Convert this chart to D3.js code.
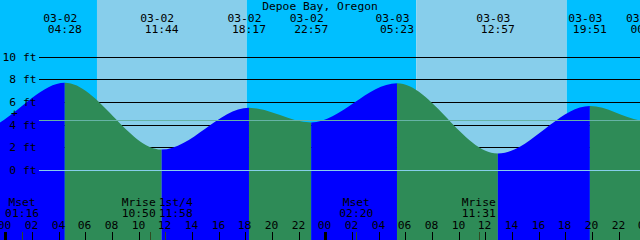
<!DOCTYPE html>
<html><head><meta charset="utf-8">
<script src="https://cdn.jsdelivr.net/npm/d3@7"></script>
<style>
html,body{margin:0;padding:0;background:#fff;}
svg{display:block;}
text{font-family:"DejaVu Sans Mono",monospace;font-size:11.3px;fill:#000;}
</style></head>
<body>
<svg id="chart" width="640" height="240"></svg>
<script>
// ---------- data ----------
const title = "Depoe Bay, Oregon";
// extrema (first and last lie outside the visible window)
const tideTimes   = ["03-01 16:40","03-01 22:05","03-02 04:28","03-02 11:44","03-02 18:17","03-02 22:57","03-03 05:23","03-03 12:57","03-03 19:51","03-04 00:10","03-04 06:15"];
const tideHeights = [5.4, 3.6, 7.7, 1.8, 5.5, 4.2, 7.65, 1.45, 5.65, 4.3, 7.5];
const sunTimes = ["03-02 06:53","03-02 18:07","03-03 06:50","03-03 18:07"];
const sunKinds = ["rise","set","rise","set"];
const moonTimes  = ["03-02 01:16","03-02 10:50","03-02 11:58","03-03 02:20","03-03 11:31"];
const moonLabels = ["Mset","Mrise","1st/4","Mset","Mrise"];
const depthTicks = [0,2,4,6,8,10];
const hourTicks = d3.range(0,50,2);
const mslFt = 4.4;

// ---------- helpers ----------
function hrs(s){ // hours since 03-02 00:00
  const [md,hm]=s.split(" ");
  const day=+md.split("-")[1]-2;
  const [h,m]=hm.split(":").map(Number);
  return day*24+h+m/60;
}
const W=640,H=240;
const svg=d3.select("#chart");
const x=d3.scaleLinear().domain([-0.39,47.61]).range([0,W]);
const y=d3.scaleLinear().domain([0,10]).range([170,56.7]);

// day/night background
const bounds=[x.domain()[0],...sunTimes.map(hrs),x.domain()[1]];
const bandColors=[];
let night=sunKinds[0]==="rise";
for(let i=0;i<bounds.length-1;i++){bandColors.push(night?"#00BFFF":"#87CEEB");night=!night;}
svg.append("g").selectAll("rect").data(d3.range(bounds.length-1)).join("rect")
  .attr("x",i=>x(bounds[i])).attr("width",i=>x(bounds[i+1])-x(bounds[i]))
  .attr("y",0).attr("height",H).attr("fill",i=>bandColors[i]);

// depth lines (behind the curve)
svg.append("g").selectAll("line").data(depthTicks.filter(d=>d!==0)).join("line")
  .attr("x1",39).attr("x2",W).attr("y1",d=>Math.round(y(d))+0.5).attr("y2",d=>Math.round(y(d))+0.5)
  .attr("stroke","#000").attr("stroke-width",1);

// tide curve
const pts=tideTimes.map((t,i)=>[hrs(t),tideHeights[i]]);
const area=d3.area().x(d=>x(d[0])).y0(H).y1(d=>y(d[1])).curve(d3.curveMonotoneX);
const defs=svg.append("defs");
const gArea=svg.append("g");
for(let i=0;i<pts.length-1;i++){
  const id="seg"+i;
  defs.append("clipPath").attr("id",id).append("rect")
    .attr("x",x(pts[i][0])).attr("width",x(pts[i+1][0])-x(pts[i][0])).attr("y",0).attr("height",H);
  const rising=pts[i+1][1]>pts[i][1];
  gArea.append("path").datum(pts).attr("d",area).attr("clip-path",`url(#${id})`)
    .attr("fill",rising?"#0000FF":"#2E8B57");
}

// datum and MSL lines over the curve
svg.append("line").attr("x1",39).attr("x2",W).attr("y1",Math.round(y(0))+0.5).attr("y2",Math.round(y(0))+0.5)
  .attr("stroke","#87CEEB").attr("stroke-width",1);
svg.append("line").attr("x1",39).attr("x2",W).attr("y1",Math.round(y(mslFt))+0.5).attr("y2",Math.round(y(mslFt))+0.5)
  .attr("stroke","#66b3a6").attr("stroke-width",1);

// depth labels
svg.append("g").selectAll("text").data(depthTicks).join("text")
  .attr("x",36.5).attr("y",d=>y(d)+4).attr("text-anchor","end").text(d=>d+" ft");
svg.append("text").attr("x",14.5).attr("y",116.5).attr("text-anchor","middle").text("+");

// title
svg.append("text").attr("x",W/2).attr("y",10).attr("text-anchor","middle").text(title);

// tide event labels (only those that reach the window)
const gT=svg.append("g");
tideTimes.forEach(t=>{
  const xx=x(hrs(t));
  if(xx<-10||xx>W+12) return;
  const [md,hm]=t.split(" ");
  gT.append("text").attr("x",xx-4.5).attr("y",21.5).attr("text-anchor","middle").text(md);
  gT.append("text").attr("x",xx).attr("y",33).attr("text-anchor","middle").text(hm);
});

// hour ticks & labels
const gX=svg.append("g");
hourTicks.forEach(h=>{
  const xx=Math.round(x(h));
  const isDay=h%24===0;
  gX.append("rect").attr("x",isDay?xx-1:xx).attr("width",isDay?3:1).attr("y",232).attr("height",8).attr("fill","#000");
  gX.append("text").attr("x",xx-0.5).attr("y",229).attr("text-anchor","middle").text(d3.format("02d")(h%24));
});

// moon events: ticks + labels with simple collision avoidance
const moon=moonTimes.map((t,i)=>({x:x(hrs(t)),lab:moonLabels[i],tm:t.split(" ")[1]}));
moon.forEach(m=>{
  gX.append("rect").attr("x",Math.round(m.x)).attr("width",1).attr("y",232).attr("height",8).attr("fill","#2f4a22");
  m.lx=m.x;
});
const sep=37;
for(let i=0;i<moon.length-1;i++){
  const a=moon[i],b=moon[i+1];
  if(b.lx-a.lx<sep){const mid=(a.lx+b.lx)/2;a.lx=mid-sep/2;b.lx=mid+sep/2;}
}
moon.forEach(m=>{
  gX.append("text").attr("x",m.lx).attr("y",206).attr("text-anchor","middle").text(m.lab);
  gX.append("text").attr("x",m.lx).attr("y",217).attr("text-anchor","middle").text(m.tm);
});
</script>
</body></html>
